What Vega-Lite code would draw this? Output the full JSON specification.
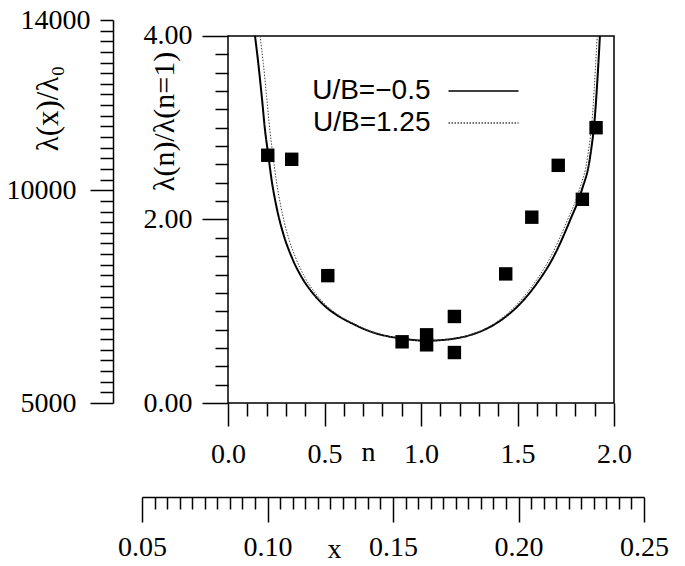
{
  "$schema": "https://vega.github.io/schema/vega-lite/v6.json",
  "width": 502,
  "height": 383,
  "autosize": {"type": "none"},
  "padding": {"left": 142, "top": 20, "right": 41, "bottom": 163},
  "background": "white",
  "config": {
    "view": {"stroke": null},
    "axis": {
      "labelFont": "Liberation Serif",
      "titleFont": "Liberation Serif",
      "labelColor": "black",
      "titleColor": "black",
      "domainColor": "black",
      "tickColor": "black",
      "labelFontSize": 28,
      "titleFontSize": 30,
      "titleFontWeight": "normal",
      "domainWidth": 1.5,
      "tickWidth": 1.5,
      "grid": false,
      "labelOverlap": false,
      "labelBound": false,
      "labelFlush": false
    }
  },
  "datasets": {
    "curves": [
      {"series": "U/B=−0.5", "n": 0.140, "ratio": 4.00},
      {"series": "U/B=−0.5", "n": 0.157, "ratio": 3.70},
      {"series": "U/B=−0.5", "n": 0.175, "ratio": 3.34},
      {"series": "U/B=−0.5", "n": 0.192, "ratio": 2.97},
      {"series": "U/B=−0.5", "n": 0.209, "ratio": 2.70},
      {"series": "U/B=−0.5", "n": 0.226, "ratio": 2.43},
      {"series": "U/B=−0.5", "n": 0.252, "ratio": 2.13},
      {"series": "U/B=−0.5", "n": 0.287, "ratio": 1.84},
      {"series": "U/B=−0.5", "n": 0.330, "ratio": 1.59},
      {"series": "U/B=−0.5", "n": 0.382, "ratio": 1.37},
      {"series": "U/B=−0.5", "n": 0.442, "ratio": 1.19},
      {"series": "U/B=−0.5", "n": 0.500, "ratio": 1.06},
      {"series": "U/B=−0.5", "n": 0.570, "ratio": 0.95},
      {"series": "U/B=−0.5", "n": 0.650, "ratio": 0.86},
      {"series": "U/B=−0.5", "n": 0.736, "ratio": 0.78},
      {"series": "U/B=−0.5", "n": 0.822, "ratio": 0.73},
      {"series": "U/B=−0.5", "n": 0.908, "ratio": 0.70},
      {"series": "U/B=−0.5", "n": 0.970, "ratio": 0.685},
      {"series": "U/B=−0.5", "n": 1.030, "ratio": 0.678},
      {"series": "U/B=−0.5", "n": 1.100, "ratio": 0.685},
      {"series": "U/B=−0.5", "n": 1.167, "ratio": 0.70},
      {"series": "U/B=−0.5", "n": 1.254, "ratio": 0.74},
      {"series": "U/B=−0.5", "n": 1.340, "ratio": 0.81},
      {"series": "U/B=−0.5", "n": 1.426, "ratio": 0.92},
      {"series": "U/B=−0.5", "n": 1.513, "ratio": 1.08},
      {"series": "U/B=−0.5", "n": 1.599, "ratio": 1.30},
      {"series": "U/B=−0.5", "n": 1.686, "ratio": 1.59},
      {"series": "U/B=−0.5", "n": 1.772, "ratio": 1.99},
      {"series": "U/B=−0.5", "n": 1.833, "ratio": 2.32},
      {"series": "U/B=−0.5", "n": 1.876, "ratio": 2.68},
      {"series": "U/B=−0.5", "n": 1.902, "ratio": 3.15},
      {"series": "U/B=−0.5", "n": 1.919, "ratio": 3.70},
      {"series": "U/B=−0.5", "n": 1.927, "ratio": 4.00},
      {"series": "U/B=1.25", "n": 0.166, "ratio": 4.00},
      {"series": "U/B=1.25", "n": 0.183, "ratio": 3.70},
      {"series": "U/B=1.25", "n": 0.200, "ratio": 3.34},
      {"series": "U/B=1.25", "n": 0.217, "ratio": 2.97},
      {"series": "U/B=1.25", "n": 0.233, "ratio": 2.70},
      {"series": "U/B=1.25", "n": 0.250, "ratio": 2.43},
      {"series": "U/B=1.25", "n": 0.275, "ratio": 2.13},
      {"series": "U/B=1.25", "n": 0.308, "ratio": 1.84},
      {"series": "U/B=1.25", "n": 0.349, "ratio": 1.59},
      {"series": "U/B=1.25", "n": 0.398, "ratio": 1.37},
      {"series": "U/B=1.25", "n": 0.455, "ratio": 1.19},
      {"series": "U/B=1.25", "n": 0.511, "ratio": 1.06},
      {"series": "U/B=1.25", "n": 0.578, "ratio": 0.95},
      {"series": "U/B=1.25", "n": 0.656, "ratio": 0.86},
      {"series": "U/B=1.25", "n": 0.740, "ratio": 0.78},
      {"series": "U/B=1.25", "n": 0.825, "ratio": 0.73},
      {"series": "U/B=1.25", "n": 0.910, "ratio": 0.70},
      {"series": "U/B=1.25", "n": 0.970, "ratio": 0.683},
      {"series": "U/B=1.25", "n": 1.030, "ratio": 0.676},
      {"series": "U/B=1.25", "n": 1.100, "ratio": 0.683},
      {"series": "U/B=1.25", "n": 1.167, "ratio": 0.70},
      {"series": "U/B=1.25", "n": 1.250, "ratio": 0.74},
      {"series": "U/B=1.25", "n": 1.333, "ratio": 0.81},
      {"series": "U/B=1.25", "n": 1.416, "ratio": 0.92},
      {"series": "U/B=1.25", "n": 1.500, "ratio": 1.08},
      {"series": "U/B=1.25", "n": 1.585, "ratio": 1.30},
      {"series": "U/B=1.25", "n": 1.671, "ratio": 1.59},
      {"series": "U/B=1.25", "n": 1.758, "ratio": 1.99},
      {"series": "U/B=1.25", "n": 1.820, "ratio": 2.32},
      {"series": "U/B=1.25", "n": 1.863, "ratio": 2.68},
      {"series": "U/B=1.25", "n": 1.889, "ratio": 3.15},
      {"series": "U/B=1.25", "n": 1.905, "ratio": 3.70},
      {"series": "U/B=1.25", "n": 1.913, "ratio": 4.00}
    ],
    "points": [
      {"n": 0.206, "ratio": 2.70},
      {"n": 0.330, "ratio": 2.656},
      {"n": 0.517, "ratio": 1.388},
      {"n": 0.902, "ratio": 0.667},
      {"n": 1.029, "ratio": 0.743},
      {"n": 1.029, "ratio": 0.634},
      {"n": 1.173, "ratio": 0.943},
      {"n": 1.173, "ratio": 0.55},
      {"n": 1.439, "ratio": 1.407},
      {"n": 1.574, "ratio": 2.025},
      {"n": 1.711, "ratio": 2.59},
      {"n": 1.836, "ratio": 2.22},
      {"n": 1.907, "ratio": 3.0}
    ]
  },
  "layer": [
    {
      "data": {"values": [{}]},
      "mark": {"type": "rect", "fill": null, "fillOpacity": 0, "stroke": "black", "strokeWidth": 1.5},
      "encoding": {
        "x": {
          "datum": 0, "type": "quantitative",
          "scale": {"domain": [-0.4456, 2.1554], "nice": false, "zero": false},
          "axis": {
            "orient": "bottom", "offset": 0, "domain": false,
            "values": [0,0.1,0.2,0.3,0.4,0.5,0.6,0.7,0.8,0.9,1,1.1,1.2,1.3,1.4,1.5,1.6,1.7,1.8,1.9,2],
            "format": ".1f",
            "labelExpr": "abs(datum.value*2-round(datum.value*2))<0.001 ? datum.label : ''",
            "tickSize": {"condition": {"test": "abs(datum.value*2-round(datum.value*2))<0.001", "value": 23}, "value": 13},
            "labelPadding": 14,
            "labelFont": "Liberation Serif", "labelFontSize": 28,
            "title": "n", "titleX": 226, "titleY": 57, "titleAlign": "center", "titleBaseline": "alphabetic",
            "titleFont": "Liberation Serif", "titleFontSize": 28, "titleFontWeight": "normal"
          }
        },
        "x2": {"datum": 2},
        "y": {
          "datum": 0, "type": "quantitative",
          "scale": {"domain": [0, 4.174], "nice": false, "zero": false},
          "axis": {
            "orient": "left", "offset": -86, "domain": false,
            "values": [0,0.2,0.4,0.6,0.8,1,1.2,1.4,1.6,1.8,2,2.2,2.4,2.6,2.8,3,3.2,3.4,3.6,3.8,4],
            "format": ".2f",
            "labelExpr": "abs(datum.value/2-round(datum.value/2))<0.001 ? datum.label : ''",
            "tickSize": {"condition": {"test": "abs(datum.value/2-round(datum.value/2))<0.001", "value": 26}, "value": 13},
            "labelPadding": 10,
            "labelFont": "Liberation Serif", "labelFontSize": 28,
            "title": "λ(n)/λ(n=1)", "titleX": -64, "titleY": 101, "titleAngle": 270, "titleAlign": "center", "titleBaseline": "middle",
            "titleFont": "Liberation Serif", "titleFontSize": 30, "titleFontWeight": "normal"
          }
        },
        "y2": {"datum": 4}
      }
    },
    {
      "data": {"name": "curves"},
      "mark": {"type": "line", "interpolate": "monotone"},
      "encoding": {
        "x": {"field": "n", "type": "quantitative", "scale": {"domain": [-0.4456, 2.1554], "nice": false, "zero": false}, "axis": null},
        "y": {"field": "ratio", "type": "quantitative", "scale": {"domain": [0, 4.174], "nice": false, "zero": false}, "axis": null},
        "color": {
          "field": "series", "type": "nominal",
          "scale": {"domain": ["U/B=−0.5", "U/B=1.25"], "range": ["black", "#444444"]},
          "legend": {
            "orient": "none", "legendX": 326.5, "legendY": 56, "title": null,
            "labelFont": "Liberation Sans", "labelFontSize": 28, "labelColor": "black",
            "labelAlign": "right", "labelOffset": -68, "labelLimit": 400,
            "symbolType": "M-2.5,0H2.5", "symbolSize": 784, "symbolStrokeWidth": 1.5,
            "padding": 0, "rowPadding": 3
          }
        },
        "strokeDash": {
          "field": "series", "type": "nominal",
          "scale": {"domain": ["U/B=−0.5", "U/B=1.25"], "range": [[1, 0], [1.5, 1.5]]},
          "legend": {
            "orient": "none", "legendX": 326.5, "legendY": 56, "title": null,
            "labelFont": "Liberation Sans", "labelFontSize": 28, "labelColor": "black",
            "labelAlign": "right", "labelOffset": -68, "labelLimit": 400,
            "symbolType": "M-2.5,0H2.5", "symbolSize": 784, "symbolStrokeWidth": 1.5,
            "padding": 0, "rowPadding": 3
          }
        },
        "strokeWidth": {
          "field": "series", "type": "nominal",
          "scale": {"domain": ["U/B=−0.5", "U/B=1.25"], "range": [2, 1]},
          "legend": null
        }
      }
    },
    {
      "data": {"name": "points"},
      "mark": {"type": "square", "size": 180, "filled": true, "color": "black", "opacity": 1},
      "encoding": {
        "x": {"field": "n", "type": "quantitative", "scale": {"domain": [-0.4456, 2.1554], "nice": false, "zero": false}, "axis": null},
        "y": {"field": "ratio", "type": "quantitative", "scale": {"domain": [0, 4.174], "nice": false, "zero": false}, "axis": null}
      }
    },
    {
      "data": {"values": [{}]},
      "mark": {"type": "point", "opacity": 0},
      "encoding": {
        "x": {
          "datum": 0.05, "type": "quantitative",
          "scale": {"domain": [0.05, 0.25], "nice": false, "zero": false},
          "axis": {
            "orient": "bottom", "offset": 94, "domain": true,
            "values": [0.05,0.055,0.06,0.065,0.07,0.075,0.08,0.085,0.09,0.095,0.1,0.105,0.11,0.115,0.12,0.125,0.13,0.135,0.14,0.145,0.15,0.155,0.16,0.165,0.17,0.175,0.18,0.185,0.19,0.195,0.2,0.205,0.21,0.215,0.22,0.225,0.23,0.235,0.24,0.245,0.25],
            "format": ".2f",
            "labelExpr": "abs(datum.value*20-round(datum.value*20))<0.001 ? datum.label : ''",
            "tickSize": {"condition": {"test": "abs(datum.value*20-round(datum.value*20))<0.001", "value": 25}, "value": 12},
            "labelPadding": 11,
            "labelFont": "Liberation Serif", "labelFontSize": 28,
            "title": "x", "titleX": 192, "titleY": 60, "titleAlign": "center", "titleBaseline": "alphabetic",
            "titleFont": "Liberation Serif", "titleFontSize": 28, "titleFontWeight": "normal"
          }
        },
        "y": {
          "datum": 5000, "type": "quantitative",
          "scale": {"domain": [5000, 14000], "nice": false, "zero": false},
          "axis": {
            "orient": "left", "offset": 29, "domain": true,
            "values": [5000,5250,5500,5750,6000,6250,6500,6750,7000,7250,7500,7750,8000,8250,8500,8750,9000,9250,9500,9750,10000,10250,10500,10750,11000,11250,11500,11750,12000,12250,12500,12750,13000,13250,13500,13750,14000],
            "format": "d",
            "labelExpr": "datum.value==5000 || datum.value==10000 || datum.value==14000 ? datum.label : ''",
            "tickSize": {"condition": {"test": "datum.value % 5000 == 0", "value": 23}, "value": 13},
            "labelPadding": {"condition": {"test": "datum.value % 5000 == 0", "value": 14}, "value": 10},
            "labelFont": "Liberation Serif", "labelFontSize": 28,
            "title": "λ(x)/λ₀", "titleX": -65, "titleY": 88, "titleAngle": 270, "titleAlign": "center", "titleBaseline": "middle",
            "titleFont": "Liberation Serif", "titleFontSize": 31, "titleFontWeight": "normal"
          }
        }
      }
    }
  ],
  "resolve": {
    "scale": {"x": "independent", "y": "independent", "color": "independent", "strokeDash": "independent"},
    "axis": {"x": "independent", "y": "independent"}
  }
}
